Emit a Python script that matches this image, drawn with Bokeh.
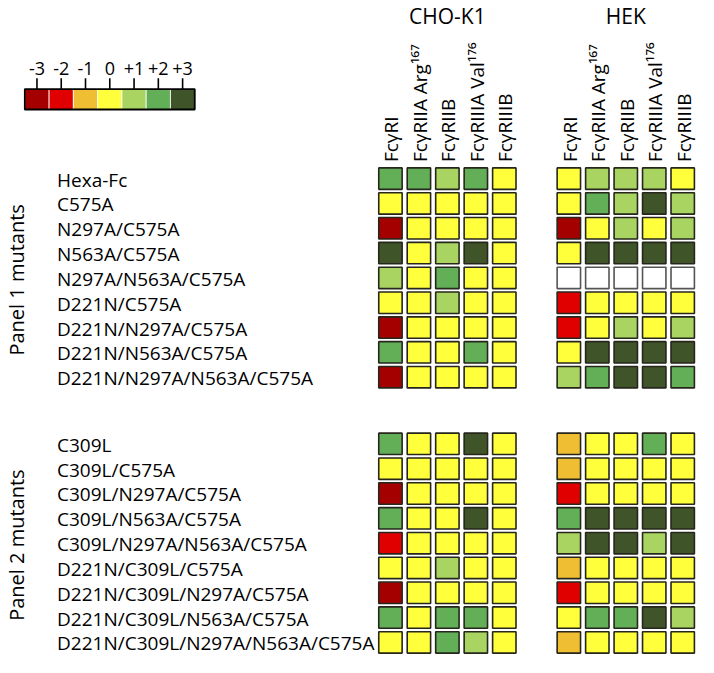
import math
from bokeh.plotting import figure
from bokeh.models import Range1d, ColumnDataSource
from bokeh.core.properties import value
from bokeh.embed import file_html
from bokeh.resources import INLINE

# ---------------- data ----------------
cell_lines = ["CHO-K1", "HEK"]
receptors = ["FcγRI", "FcγRIIA Arg¹⁶⁷", "FcγRIIB", "FcγRIIIA Val¹⁷⁶", "FcγRIIIB"]
panel_names = ["Panel 1 mutants", "Panel 2 mutants"]

panel1_mutants = ["Hexa-Fc", "C575A", "N297A/C575A", "N563A/C575A",
                  "N297A/N563A/C575A", "D221N/C575A", "D221N/N297A/C575A",
                  "D221N/N563A/C575A", "D221N/N297A/N563A/C575A"]
panel2_mutants = ["C309L", "C309L/C575A", "C309L/N297A/C575A", "C309L/N563A/C575A",
                  "C309L/N297A/N563A/C575A", "D221N/C309L/C575A",
                  "D221N/C309L/N297A/C575A", "D221N/C309L/N563A/C575A",
                  "D221N/C309L/N297A/N563A/C575A"]

# binding scores (-3 .. +3); None = not determined (white)
cho_panel1 = [[2, 2, 1, 2, 0],
              [0, 0, 0, 0, 0],
              [-3, 0, 0, 0, 0],
              [3, 0, 1, 3, 0],
              [1, 0, 2, 0, 0],
              [0, 0, 1, 0, 0],
              [-3, 0, 0, 0, 0],
              [2, 0, 0, 2, 0],
              [-3, 0, 0, 0, 0]]
hek_panel1 = [[0, 1, 1, 1, 0],
              [0, 2, 1, 3, 1],
              [-3, 0, 1, 0, 1],
              [0, 3, 3, 3, 3],
              [None, None, None, None, None],
              [-2, 0, 0, 0, 0],
              [-2, 0, 1, 0, 1],
              [0, 3, 3, 3, 3],
              [1, 2, 3, 3, 2]]
cho_panel2 = [[2, 0, 0, 3, 0],
              [0, 0, 0, 0, 0],
              [-3, 0, 0, 0, 0],
              [2, 0, 0, 3, 0],
              [-2, 0, 0, 0, 0],
              [0, 0, 1, 0, 0],
              [-3, 0, 0, 0, 0],
              [2, 0, 2, 2, 0],
              [0, 0, 2, 1, 0]]
hek_panel2 = [[-1, 0, 0, 2, 0],
              [-1, 0, 0, 0, 0],
              [-2, 0, 0, 0, 0],
              [2, 3, 3, 3, 3],
              [1, 3, 3, 1, 3],
              [-1, 0, 0, 0, 0],
              [-2, 0, 0, 0, 0],
              [0, 2, 2, 3, 1],
              [-1, 0, 0, 0, 0]]

legend_levels = [-3, -2, -1, 0, 1, 2, 3]
legend_labels = ["-3", "-2", "-1", "0", "+1", "+2", "+3"]
level_colors = ["#A50000", "#E00000", "#F0BE32", "#FFFF3C", "#A9D462", "#62AF58", "#3F5428"]

# ---------------- layout constants ----------------
FONT = value("Open Sans")
group_x0 = [400.0, 583.0]
col_pitch = 29.2
panel_y0 = [183.0, 455.5]
row_pitch = 25.5
cell_w, cell_h = 24, 22
label_x = 58

p = figure(width=698, height=657, output_backend="svg", toolbar_location=None,
           x_range=Range1d(0, 716), y_range=Range1d(675, 0),
           min_border=0)
p.axis.visible = False
p.xgrid.visible = False
p.ygrid.visible = False
p.outline_line_color = None
p.background_fill_color = "white"

# ---------------- cells ----------------
panels = [panel1_mutants, panel2_mutants]
matrices = [[cho_panel1, hek_panel1], [cho_panel2, hek_panel2]]
xs, ys, fills, lines = [], [], [], []
for pi, mutants in enumerate(panels):
    for ci in range(len(cell_lines)):
        mat = matrices[pi][ci]
        for r in range(len(mutants)):
            for k in range(len(receptors)):
                v = mat[r][k]
                xs.append(group_x0[ci] + k * col_pitch)
                ys.append(panel_y0[pi] + r * row_pitch)
                if v is None:
                    fills.append("white")
                    lines.append("#555555")
                else:
                    fills.append(level_colors[legend_levels.index(v)])
                    lines.append("#26261c")
src = ColumnDataSource(dict(x=xs, y=ys, fill=fills, line=lines))
p.rect(x="x", y="y", width=cell_w, height=cell_h, fill_color="fill",
       line_color="line", line_width=1.6, source=src)

# ---------------- row labels ----------------
lx, ly, lt = [], [], []
for pi, mutants in enumerate(panels):
    for r, m in enumerate(mutants):
        lx.append(label_x)
        ly.append(panel_y0[pi] + r * row_pitch + 1)
        lt.append(m)
p.text(x=lx, y=ly, text=lt, text_font=FONT, text_font_size="19px",
       text_align="left", text_baseline="middle", text_color="black")

# panel labels (vertical)
pl_y = [panel_y0[i] + (len(panels[i]) - 1) * row_pitch / 2 + 2 for i in range(2)]
p.text(x=[16, 16], y=pl_y, text=panel_names, angle=math.pi / 2,
       text_font=FONT, text_font_size="20px", text_align="center",
       text_baseline="middle", text_color="black")

# ---------------- column headers ----------------
hx, hy, ht = [], [], []
for ci in range(len(cell_lines)):
    for k, rname in enumerate(receptors):
        hx.append(group_x0[ci] + k * col_pitch + 1)
        hy.append(166)
        ht.append(rname)
p.text(x=hx, y=hy, text=ht, angle=math.pi / 2, text_font=FONT,
       text_font_size="19px", text_align="left", text_baseline="middle",
       text_color="black")

gx = [group_x0[ci] + 2 * col_pitch for ci in range(len(cell_lines))]
p.text(x=gx, y=[16, 16], text=cell_lines, text_font=FONT, text_font_size="21px",
       text_align="center", text_baseline="middle", text_color="black")

# ---------------- colour legend ----------------
leg_x0, leg_w, leg_y, leg_h = 37.4, 24.9, 101.5, 21
lgx = [leg_x0 + i * leg_w for i in range(len(legend_levels))]
p.rect(x=lgx, y=[leg_y] * len(lgx), width=leg_w, height=leg_h,
       fill_color=level_colors, line_color="white", line_width=0.8)
p.rect(x=[(lgx[0] + lgx[-1]) / 2], y=[leg_y], width=leg_w * len(lgx), height=leg_h,
       fill_color=None, line_color="black", line_width=1.8)
p.segment(x0=lgx, y0=[leg_y - leg_h / 2] * len(lgx), x1=lgx,
          y1=[leg_y - leg_h / 2 - 11] * len(lgx), line_color="black", line_width=1.6)
p.text(x=lgx, y=[70] * len(lgx), text=legend_labels, text_font=FONT,
       text_font_size="18px", text_align="center", text_baseline="middle",
       text_color="black")

open("out.html", "w").write(file_html(p, INLINE))
